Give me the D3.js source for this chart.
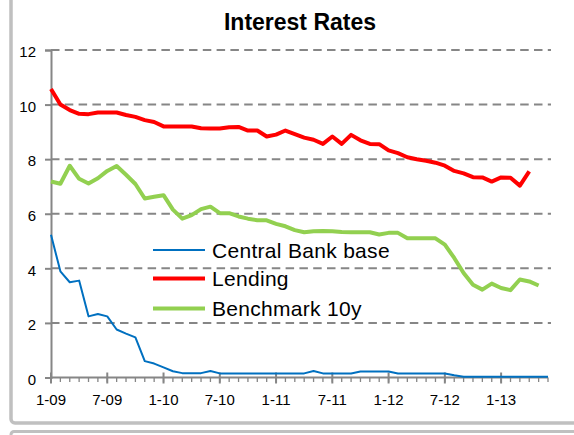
<!DOCTYPE html>
<html>
<head>
<meta charset="utf-8">
<script src="https://cdn.jsdelivr.net/npm/d3@7"></script>
<style>
  html, body { margin: 0; padding: 0; background: #ffffff; }
  svg { display: block; font-family: "Liberation Sans", Arial, sans-serif; }
</style>
</head>
<body>
<svg id="chart" width="574" height="435"></svg>
<script>
// Monthly observations, January 2009 onward (index 0 = 1-09)
const months = d3.range(54);
const centralBankBase = [
  5.23, 3.89, 3.49, 3.55, 2.24, 2.33, 2.24, 1.76, 1.61, 1.47,
  0.60, 0.51, 0.37, 0.23, 0.16, 0.16, 0.16, 0.24, 0.15, 0.15,
  0.15, 0.15, 0.15, 0.15, 0.15, 0.15, 0.15, 0.15, 0.24, 0.15,
  0.15, 0.15, 0.15, 0.22, 0.22, 0.22, 0.22, 0.15, 0.15, 0.15,
  0.15, 0.15, 0.15, 0.08, 0.03, 0.03, 0.03, 0.03, 0.03, 0.03,
  0.03, 0.03, 0.03, 0.03
];
const lending = [
  10.57, 10.00, 9.80, 9.66, 9.65, 9.71, 9.71, 9.71, 9.62, 9.55,
  9.43, 9.36, 9.20, 9.20, 9.20, 9.20, 9.13, 9.12, 9.12, 9.17,
  9.18, 9.05, 9.05, 8.83, 8.90, 9.05, 8.92, 8.79, 8.71, 8.56,
  8.83, 8.56, 8.89, 8.69, 8.56, 8.55, 8.32, 8.22, 8.07, 8.00,
  7.94, 7.87, 7.76, 7.57, 7.48, 7.34, 7.33, 7.18, 7.33, 7.32,
  7.03, 7.55
];
const benchmark10y = [
  7.18, 7.10, 7.76, 7.28, 7.11, 7.30, 7.57, 7.75, 7.43, 7.09,
  6.56, 6.62, 6.68, 6.15, 5.82, 5.95, 6.17, 6.26, 6.02, 6.02,
  5.90, 5.82, 5.76, 5.76, 5.63, 5.54, 5.40, 5.32, 5.36, 5.37,
  5.36, 5.33, 5.32, 5.32, 5.32, 5.24, 5.30, 5.30, 5.10, 5.10,
  5.10, 5.10, 4.87, 4.38, 3.83, 3.40, 3.22, 3.44, 3.28, 3.20,
  3.59, 3.52, 3.37
];
const majorTickIndex = [0, 6, 12, 18, 24, 30, 36, 42, 48];
const majorTickLabels = ["1-09", "7-09", "1-10", "7-10", "1-11", "7-11", "1-12", "7-12", "1-13"];
const yTicks = [0, 2, 4, 6, 8, 10, 12];

const seriesNames = ["Central Bank base", "Lending", "Benchmark 10y"];
const seriesValues = [centralBankBase, lending, benchmark10y];
const seriesColors = ["#0070C0", "#FF0000", "#92D050"];
const seriesWidths = [2, 4, 4];

const svg = d3.select("#chart");
const axisGrey = "#868686";
const frameGrey = "#c0c0c0";

// outer chart frame and the top of the next panel below it
svg.append("rect")
  .attr("x", 11).attr("y", -10).attr("width", 640).attr("height", 433)
  .attr("rx", 4)
  .attr("fill", "#ffffff").attr("stroke", frameGrey).attr("stroke-width", 3.5);
svg.append("rect")
  .attr("x", 11).attr("y", 431.5).attr("width", 640).attr("height", 40)
  .attr("rx", 3)
  .attr("fill", "#ffffff").attr("stroke", frameGrey).attr("stroke-width", 3);

const x = d3.scaleLinear().domain([0, 53]).range([51, 548]);
const y = d3.scaleLinear().domain([0, 12]).range([377.5, 50]);

// title
svg.append("text")
  .attr("x", 300).attr("y", 30)
  .attr("text-anchor", "middle")
  .attr("font-size", 23).attr("font-weight", "bold")
  .attr("fill", "#000")
  .text("Interest Rates");

// dashed horizontal gridlines
svg.append("g").selectAll("line")
  .data(yTicks.filter(d => d > 0))
  .join("line")
  .attr("x1", 51).attr("x2", 551)
  .attr("y1", d => y(d)).attr("y2", d => y(d))
  .attr("stroke", axisGrey).attr("stroke-width", 2)
  .attr("stroke-dasharray", "8.5,5.3");

// y axis
const yAxis = d3.axisLeft(y).tickValues(yTicks).tickSize(6).tickPadding(9)
  .tickFormat(d3.format("d"));
const gy = svg.append("g").attr("transform", "translate(51,0)").call(yAxis);
gy.select(".domain").attr("stroke", axisGrey).attr("stroke-width", 2);
gy.selectAll(".tick line").attr("stroke", axisGrey).attr("stroke-width", 2);
gy.selectAll(".tick text")
  .attr("font-size", 15).attr("fill", "#000")
  .attr("font-family", "\"Liberation Sans\", Arial, sans-serif")
  .attr("dy", "0.45em");

// x axis: monthly minor ticks, half-year major ticks with labels
const gx = svg.append("g");
gx.append("line")
  .attr("x1", x(0)).attr("x2", x(53))
  .attr("y1", y(0)).attr("y2", y(0))
  .attr("stroke", axisGrey).attr("stroke-width", 2);
gx.selectAll("line.minor")
  .data(months)
  .join("line").attr("class", "minor")
  .attr("x1", d => x(d)).attr("x2", d => x(d))
  .attr("y1", y(0)).attr("y2", y(0) + 4.5)
  .attr("stroke", axisGrey).attr("stroke-width", 1.3);
gx.selectAll("line.major")
  .data(majorTickIndex)
  .join("line").attr("class", "major")
  .attr("x1", d => x(d)).attr("x2", d => x(d))
  .attr("y1", y(0) - 5).attr("y2", y(0) + 6)
  .attr("stroke", axisGrey).attr("stroke-width", 2);
gx.selectAll("text")
  .data(majorTickIndex)
  .join("text")
  .attr("x", d => x(d)).attr("y", 405)
  .attr("text-anchor", "middle")
  .attr("font-size", 15).attr("fill", "#000")
  .text((d, i) => majorTickLabels[i]);

// series lines
const line = d3.line()
  .x((d, i) => x(months[i]))
  .y(d => y(d));
svg.append("g").selectAll("path")
  .data(seriesValues)
  .join("path")
  .attr("d", d => line(d))
  .attr("fill", "none")
  .attr("stroke", (d, i) => seriesColors[i])
  .attr("stroke-width", (d, i) => seriesWidths[i])
  .attr("stroke-linejoin", "round")
  .attr("stroke-linecap", "butt");

// legend
const legendY = [250, 278.5, 308.5];
const lg = svg.append("g");
lg.selectAll("line")
  .data(seriesNames)
  .join("line")
  .attr("x1", 153).attr("x2", 205)
  .attr("y1", (d, i) => legendY[i]).attr("y2", (d, i) => legendY[i])
  .attr("stroke", (d, i) => seriesColors[i])
  .attr("stroke-width", (d, i) => seriesWidths[i]);
lg.selectAll("text")
  .data(seriesNames)
  .join("text")
  .attr("x", 212)
  .attr("y", (d, i) => legendY[i] + 7.5)
  .attr("font-size", 21)
  .attr("letter-spacing", 0.3)
  .attr("fill", "#000")
  .text(d => d);
</script>
</body>
</html>
